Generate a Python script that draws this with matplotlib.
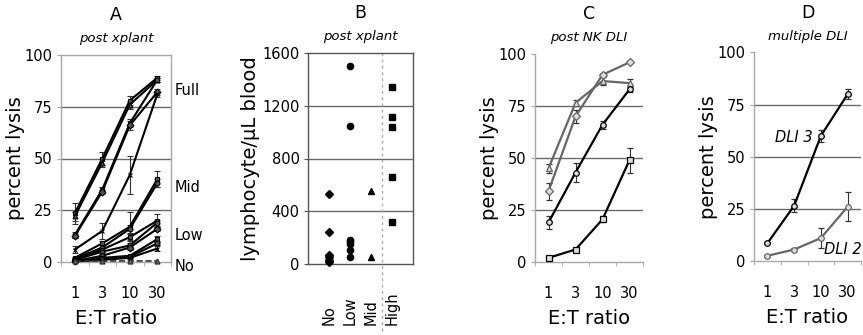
import numpy as np
import matplotlib
matplotlib.use("Agg")
import matplotlib.pyplot as plt
import matplotlib.transforms as mtransforms

plt.rcParams['font.family'] = ['DejaVu Sans']

# ---------------- data ----------------
et_labels = ["1", "3", "10", "30"]

# Panel A (post xplant) series: values at E:T 1,3,10,30
a_full1 = [23.5, 50, 78, 89]
a_full2 = [22, 48, 76, 88]
a_full3 = [13, 35, 67, 88]
a_full4 = [12.5, 34, 66, 82]
a_full5 = [6, 15, 42, 81]
a_mid1 = [2, 9, 17, 40]
a_mid2 = [1.5, 7, 16, 38]
a_low1 = [1, 6, 12, 20]
a_low2 = [1, 5, 8, 19]
a_low3 = [0.5, 3, 7, 16]
a_low4 = [0.5, 2, 3, 11]
a_low5 = [0.5, 1.5, 2.5, 9]
a_low6 = [0.3, 1, 2, 6.5]
a_no = [0.3, 0.5, 0.5, 0.5]

a_full1_err = [5, 3, 2, 1]
a_full2_err = [2, 2, 2, 1]
a_full3_err = [1.5, 1, 2, 1]
a_full4_err = [1, 1, 2, 1.5]
a_full5_err = [1.5, 4, 9, 1.5]
a_mid1_err = [0.5, 1, 7, 4]
a_mid2_err = [0.5, 1, 2, 2]
a_low1_err = [0.5, 1, 1.5, 3]
a_low2_err = [0.5, 1, 1, 1.5]
a_low3_err = [0.3, 0.5, 1, 1]
a_low4_err = [0.3, 0.5, 0.5, 1.5]
a_low5_err = [0.3, 0.3, 0.5, 1]
a_low6_err = [0.2, 0.3, 0.5, 1]
a_no_err = [0, 0, 0, 0]

a_group_labels = ["Full", "Mid", "Low", "No"]
a_group_pos = [83, 36, 13, -2]

# Panel B (post xplant) lymphocyte counts
b_categories = ["No", "Low", "Mid", "High"]
b_no = [530, 240, 70, 50, 30, 15]
b_low = [1500, 1050, 185, 170, 155, 105, 55]
b_mid = [550, 55]
b_high = [1345, 1115, 1040, 660, 320]

# Panel C (post NK DLI)
c_s1 = [34, 70, 90, 96]
c_s2 = [45, 76.5, 87, 86]
c_s3 = [19, 43, 66, 83]
c_s4 = [2, 6, 20.5, 49]
c_s1_err = [4, 3, 1, 0.5]
c_s2_err = [2, 1.5, 2, 2]
c_s3_err = [3, 4.5, 2, 1.5]
c_s4_err = [0.5, 0.5, 1.5, 6]

# Panel D (multiple DLI)
d_dli3 = [8.5, 26.5, 60, 80]
d_dli2 = [2.5, 5.5, 11, 26]
d_dli3_err = [0.5, 3, 3, 2.5]
d_dli2_err = [0.5, 0.5, 5, 7]

# ---------------- figure ----------------
W, H = 863, 335
fig = plt.figure(figsize=(W / 100, H / 100), dpi=100)

def ax_px(l, r, t, b):
    return fig.add_axes([l / W, (H - b) / H, (r - l) / W, (b - t) / H])

axA = ax_px(61, 171, 55, 262)
axB = ax_px(308, 413, 53, 264)
axC = ax_px(535, 643, 54, 262)
axD = ax_px(754, 861, 52.5, 261)

GRID = '#6a6a6a'
FRAME = '#a8a8a8'
GRAY = '#666666'
TICKFS = 10.5
LABFS = 14


def lysis_axes(ax, framed=True):
    x = np.arange(len(et_labels))
    ax.set_xlim(-0.5, len(et_labels) - 0.5)
    ax.set_ylim(0, 100)
    ax.set_yticks([0, 25, 50, 75, 100])
    ax.set_xticks(x)
    ax.set_xticklabels(et_labels, fontsize=TICKFS)
    ax.set_xticks(np.arange(len(et_labels) + 1) - 0.5, minor=True)
    ax.tick_params(axis='x', which='major', length=0, pad=17)
    ax.tick_params(axis='x', which='minor', length=3, color=FRAME, direction='out')
    ax.tick_params(axis='y', length=3, color=FRAME, labelsize=TICKFS, pad=3)
    for yv in [25, 50, 75]:
        ax.axhline(yv, color=GRID, lw=1.0, zorder=0)
    for s in ['left', 'bottom', 'top', 'right']:
        ax.spines[s].set_color(FRAME)
        ax.spines[s].set_linewidth(1.0)
    if not framed:
        ax.spines['top'].set_visible(False)
        ax.spines['right'].set_visible(False)
    ax.set_ylabel("percent lysis", fontsize=LABFS, labelpad=0)
    ax.set_xlabel("E:T ratio", fontsize=LABFS, labelpad=6)
    return x


def title2(ax, letter, sub):
    ax.annotate(letter, xy=(0.5, 1.0), xycoords='axes fraction', xytext=(0, 22),
                textcoords='offset points', ha='center', va='bottom', fontsize=12.5)
    ax.annotate(sub, xy=(0.5, 1.0), xycoords='axes fraction', xytext=(0, 7),
                textcoords='offset points', ha='center', va='bottom',
                fontsize=9.5, style='italic')

# ---------- Panel A ----------
x = lysis_axes(axA, framed=True)
a_series = [
    (a_full1, a_full1_err, 's'), (a_full2, a_full2_err, '^'),
    (a_full3, a_full3_err, 's'), (a_full4, a_full4_err, 'D'),
    (a_full5, a_full5_err, 'x'), (a_mid1, a_mid1_err, 's'),
    (a_mid2, a_mid2_err, 'o'), (a_low1, a_low1_err, 's'),
    (a_low2, a_low2_err, 'o'), (a_low3, a_low3_err, 'D'),
    (a_low4, a_low4_err, 's'), (a_low5, a_low5_err, 'o'),
    (a_low6, a_low6_err, 'x'),
]
for vals, err, m in a_series:
    axA.errorbar(x, vals, yerr=err, color='black', lw=1.5, marker=m,
                 markersize=3.5, mfc='#555555', mec='black', mew=0.8,
                 ecolor='#333333', elinewidth=0.8, capsize=2.2, capthick=0.8,
                 clip_on=False, zorder=3)
axA.errorbar(x, a_no, yerr=a_no_err, color='#333333', lw=1.2, ls='--', marker='^',
             markersize=3.5, mfc='#777777', mec='#333333', clip_on=False, zorder=3)
trA = mtransforms.blended_transform_factory(axA.transAxes, axA.transData)
for lab, pos in zip(a_group_labels, a_group_pos):
    axA.text(1.035, pos, lab, transform=trA, ha='left', va='center', fontsize=10.5)
title2(axA, "A", "post xplant")

# ---------- Panel B ----------
bpos = np.arange(1, len(b_categories) + 1)
axB.set_xlim(0, len(b_categories) + 1)
axB.set_ylim(0, 1600)
axB.set_yticks([0, 400, 800, 1200, 1600])
for yv in [400, 800, 1200]:
    axB.axhline(yv, color=GRID, lw=1.0, zorder=0)
for s in axB.spines.values():
    s.set_color('#555555')
    s.set_linewidth(1.0)
b_groups = [(b_no, 'D', 4.5), (b_low, 'o', 4.5), (b_mid, '^', 5), (b_high, 's', 4)]
for xi, (vals, m, ms) in zip(bpos, b_groups):
    axB.plot([xi] * len(vals), vals, ls='none', marker=m, markersize=ms,
             color='black', clip_on=False, zorder=3)
axB.set_xticks(bpos)
axB.set_xticklabels(b_categories, rotation=90, fontsize=TICKFS, va='bottom')
axB.tick_params(axis='x', length=0, pad=44)
axB.tick_params(axis='y', length=3, color='#555555', labelsize=TICKFS, pad=3)
trB = mtransforms.blended_transform_factory(axB.transData, axB.transAxes)
sep = bpos[-1] - 0.5
axB.plot([sep, sep], [1.0, -0.33], transform=trB, clip_on=False,
         color='#aaaaaa', lw=1.0, ls=(0, (2, 2.5)), zorder=1)
axB.set_ylabel("lymphocyte/\u03bcL blood", fontsize=LABFS, labelpad=2)
title2(axB, "B", "post xplant")

# ---------- Panel C ----------
x = lysis_axes(axC, framed=False)
c_series = [
    (c_s1, c_s1_err, 'D', GRAY), (c_s2, c_s2_err, '^', GRAY),
    (c_s3, c_s3_err, 'o', 'black'), (c_s4, c_s4_err, 's', 'black'),
]
for vals, err, m, col in c_series:
    axC.errorbar(x, vals, yerr=err, color=col, lw=1.6, marker=m, markersize=4,
                 mfc='#dddddd', mec=col, mew=0.9, ecolor='#333333',
                 elinewidth=0.8, capsize=2.5, capthick=0.8, clip_on=False, zorder=3)
title2(axC, "C", "post NK DLI")

# ---------- Panel D ----------
x = lysis_axes(axD, framed=False)
d_series = [(d_dli3, d_dli3_err, 'black'), (d_dli2, d_dli2_err, GRAY)]
for vals, err, col in d_series:
    axD.errorbar(x, vals, yerr=err, color=col, lw=1.6, marker='o', markersize=4,
                 mfc='#dddddd', mec=col, mew=0.9, ecolor='#333333',
                 elinewidth=0.8, capsize=2.5, capthick=0.8, clip_on=False, zorder=3)
axD.text(0.28, 59, "DLI 3", fontsize=10.5, style='italic', ha='left', va='center')
axD.text(2.1, 5.7, "DLI 2", fontsize=10.5, style='italic', ha='left', va='center',
         clip_on=False)
title2(axD, "D", "multiple DLI")

fig.savefig("out.png", dpi=100)
